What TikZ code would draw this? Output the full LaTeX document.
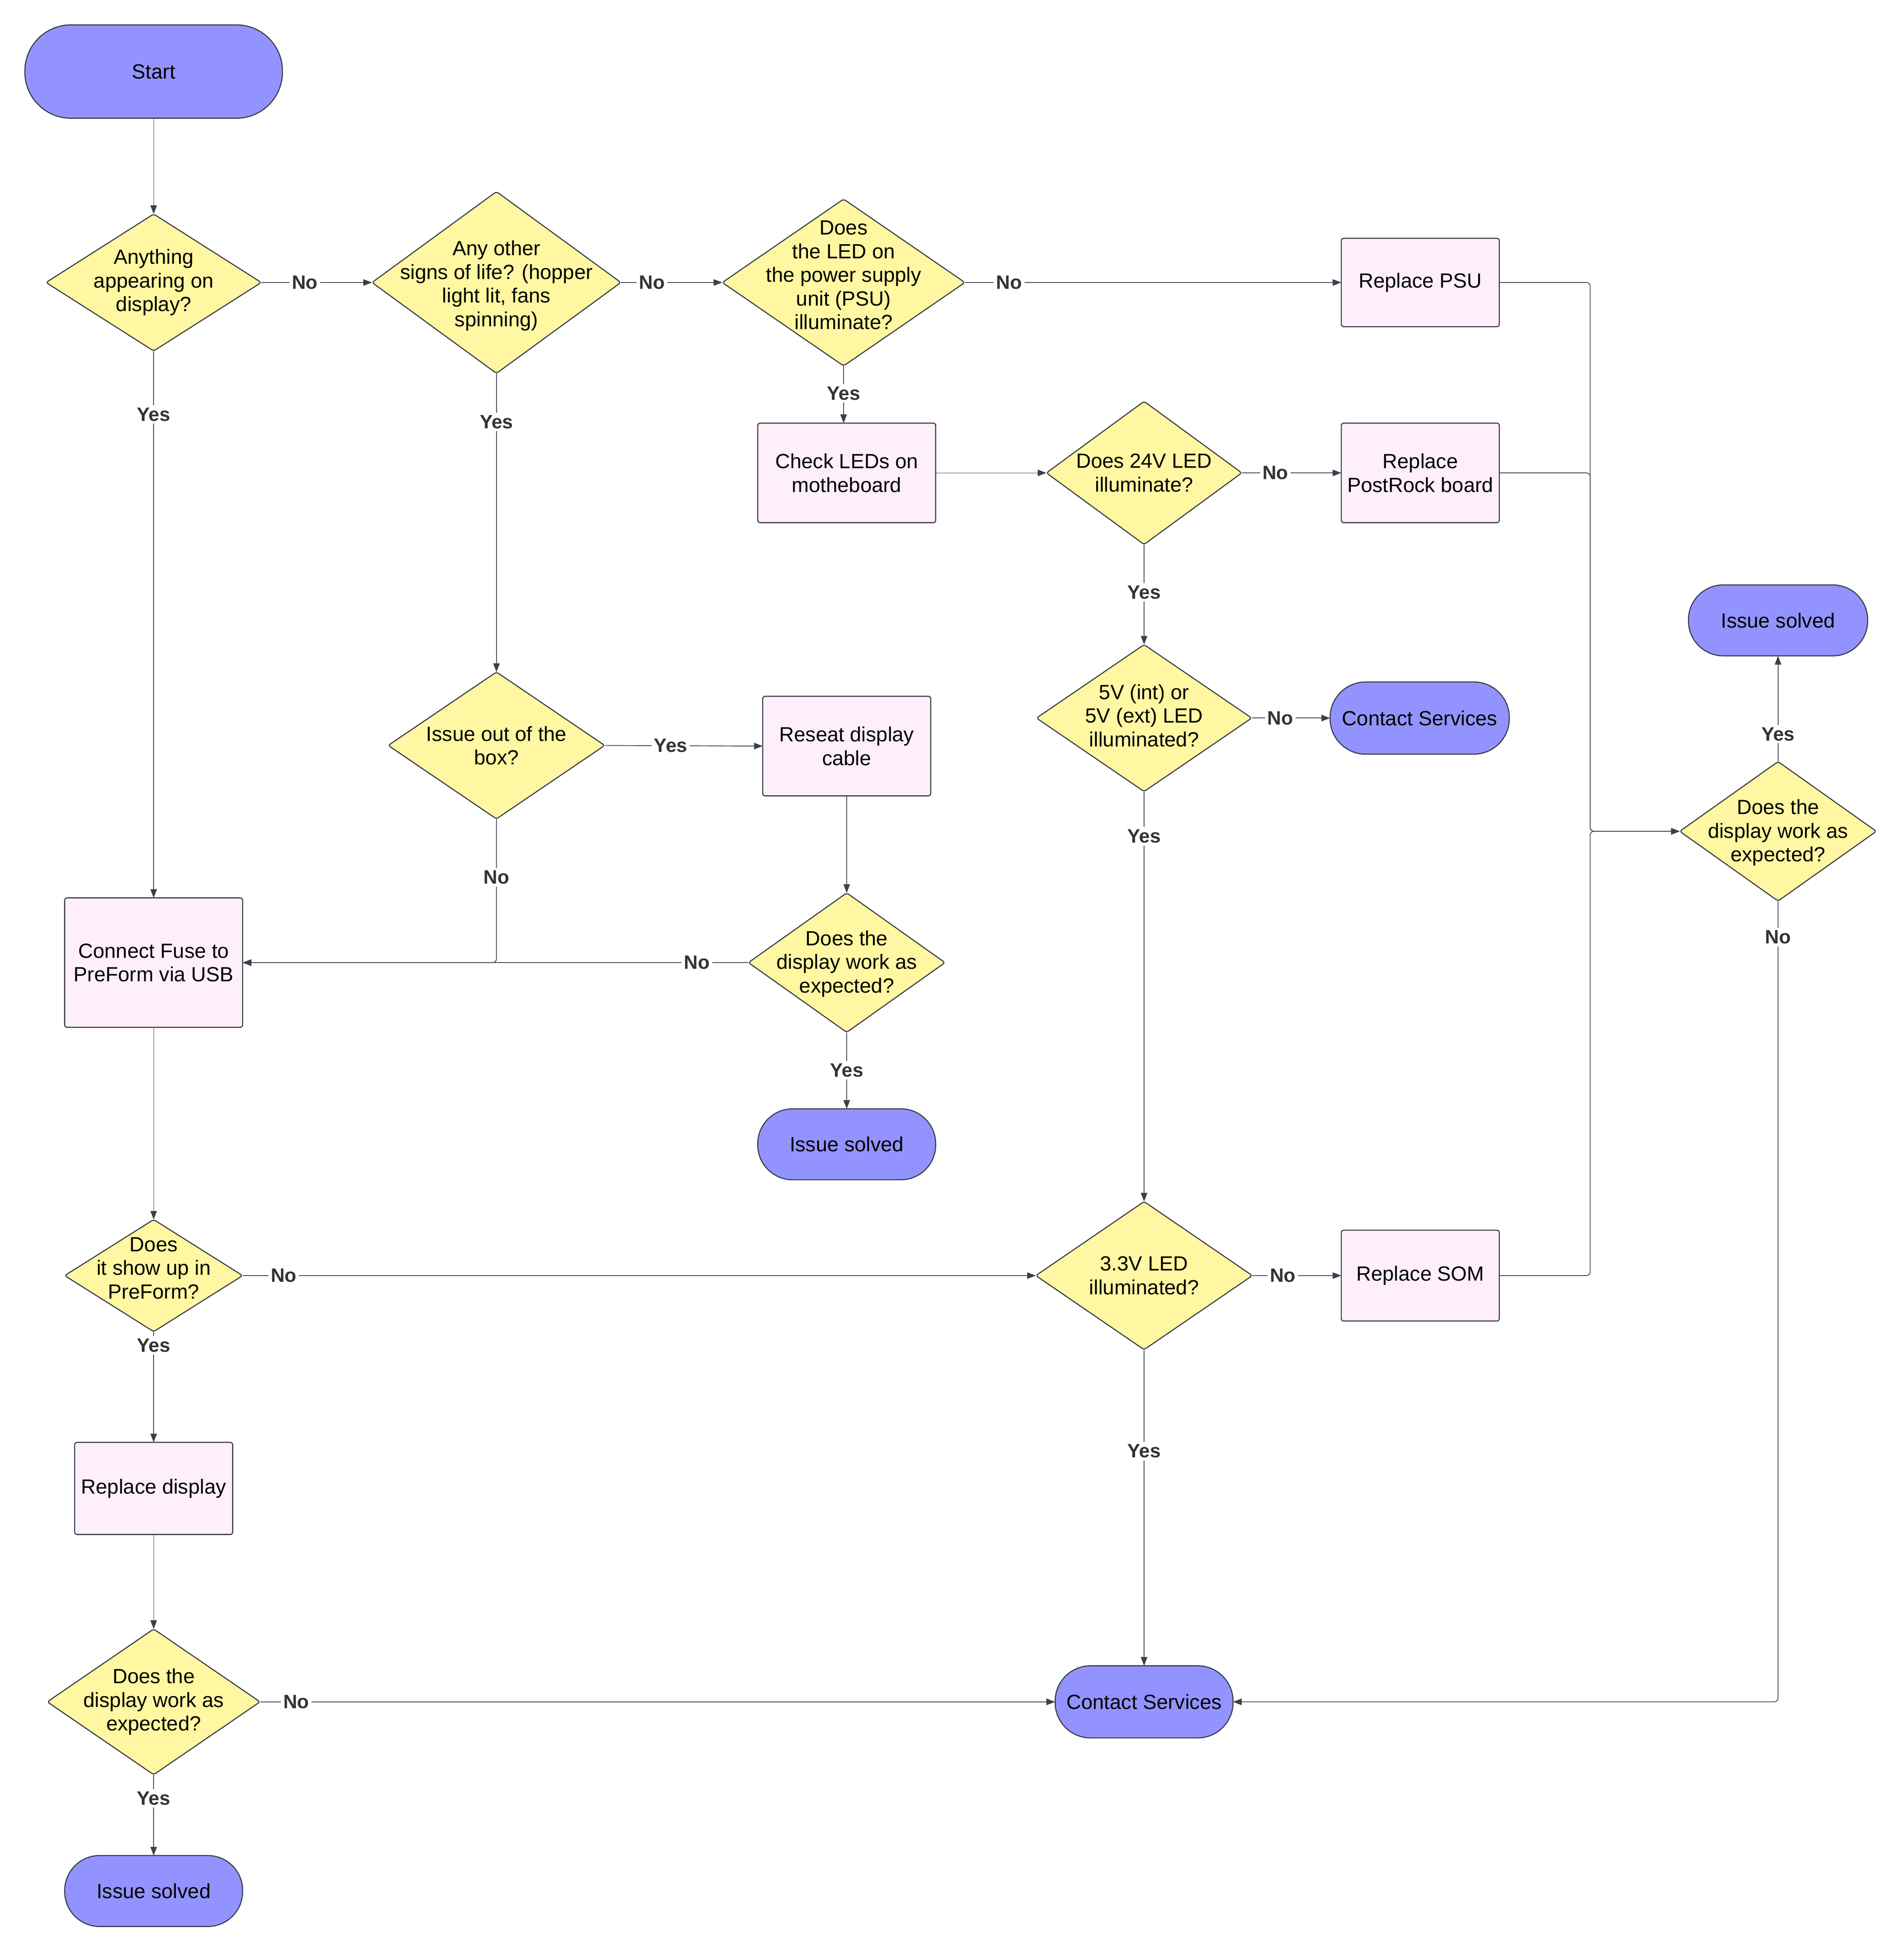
\documentclass[tikz,border=0pt]{standalone}
\usepackage{fontspec}
\setmainfont{Liberation Sans}
\usetikzlibrary{shapes.geometric,arrows.meta}
\definecolor{termc}{HTML}{9393FF}
\definecolor{diac}{HTML}{FFF7A1}
\definecolor{boxc}{HTML}{FFEFFA}
\definecolor{bd}{HTML}{383C48}
\definecolor{lc}{HTML}{3A3F4B}
\definecolor{lblc}{HTML}{333333}
\newcommand\nodefont{\fontsize{16.5}{19}\selectfont}
\newcommand\lblfont{\fontsize{15.5}{18}\selectfont\bfseries}
\tikzset{
  base/.style={draw=bd, line width=0.85pt, inner sep=0pt, outer sep=0pt, align=center, font=\nodefont, text=black},
  term/.style n args={3}{base, fill=termc, minimum width=#1, minimum height=#2, rounded corners=#3},
  boxn/.style 2 args={base, fill=boxc, minimum width=#1, minimum height=#2, rounded corners=2pt},
  dia/.style 2 args={base, diamond, fill=diac, minimum width=#1, minimum height=#2, rounded corners=2pt},
  txt/.style={align=center, font=\nodefont, inner sep=0pt, text=black},
  conn/.style={draw=lc, line width=0.6pt, -{Triangle[length=7pt,width=5.2pt]}},
  thinl/.style={conn, line width=0.35pt},
  lbl/.style={fill=white, inner sep=2pt, font=\lblfont, text=lblc},
}
\begin{document}
\begin{tikzpicture}[x=1pt,y=-1pt]
\useasboundingbox[fill=white] (0,0) rectangle (1530.13,1570.13);

% terminals
\node[term={207pt}{75pt}{37pt}] (start) at (123.5,57.5) {Start};
\node[term={144pt}{57pt}{28pt}] (is1) at (1429,498.5) {Issue solved};
\node[term={144pt}{58pt}{28.5pt}] (cs1) at (1141,577) {Contact Services};
\node[term={143pt}{57pt}{28pt}] (is2) at (680.5,919.5) {Issue solved};
\node[term={143pt}{58pt}{28.5pt}] (cs2) at (919.5,1367.5) {Contact Services};
\node[term={143pt}{57pt}{28pt}] (is3) at (123.5,1519.5) {Issue solved};

% boxes
\node[boxn={127pt}{71pt}] (psu) at (1141.5,227) {Replace PSU};
\node[boxn={143pt}{80pt}] (check) at (680.5,380) {Check LEDs on\\motheboard};
\node[boxn={127pt}{80pt}] (pr) at (1141.5,380) {Replace\\PostRock board};
\node[boxn={135pt}{80pt}] (reseat) at (680.5,599.5) {Reseat display\\cable};
\node[boxn={143pt}{104pt}] (fuse) at (123.5,773.5) {Connect Fuse to\\PreForm via USB};
\node[boxn={127pt}{73pt}] (som) at (1141.5,1025) {Replace SOM};
\node[boxn={127pt}{74pt}] (rd) at (123.5,1196) {Replace display};

% decisions
\node[dia={173pt}{110pt}] (d1) at (123.5,227) {};
\node[txt] (d1t) at (d1) {Anything\\appearing on\\display?};
\node[dia={200pt}{146pt}] (d2) at (399,227) {};
\node[txt, yshift=-2.5pt] (d2t) at (d2) {Any other\\signs of life? (hopper\\light lit, fans\\spinning)};
\node[dia={195pt}{134pt}] (d3) at (678,227) {};
\node[txt, yshift=6pt] (d3t) at (d3) {Does\\the LED on\\the power supply\\unit (PSU)\\illuminate?};
\node[dia={157pt}{115pt}] (d4) at (919.5,380) {};
\node[txt] (d4t) at (d4) {Does 24V LED\\illuminate?};
\node[dia={173pt}{118pt}] (d5) at (919.5,577) {};
\node[txt, yshift=2pt] (d5t) at (d5) {5V (int) or\\5V (ext) LED\\illuminated?};
\node[dia={174pt}{118pt}] (d6) at (399,599) {};
\node[txt] (d6t) at (d6) {Issue out of the\\box?};
\node[dia={158pt}{112pt}] (d7) at (1429,668) {};
\node[txt, yshift=-1pt] (d7t) at (d7) {Does the\\display work as\\expected?};
\node[dia={158pt}{112pt}] (d8) at (680.5,773.5) {};
\node[txt, yshift=-1pt] (d8t) at (d8) {Does the\\display work as\\expected?};
\node[dia={143pt}{90pt}] (d9) at (123.5,1025) {};
\node[txt, yshift=6pt] (d9t) at (d9) {Does\\it show up in\\PreForm?};
\node[dia={174pt}{119pt}] (d10) at (919.5,1025) {};
\node[txt] (d10t) at (d10) {3.3V LED\\illuminated?};
\node[dia={171pt}{117pt}] (d11) at (123.5,1367.5) {};
\node[txt] (d11t) at (d11) {Does the\\display work as\\expected?};

% connectors
\draw[thinl] (start.south) -- (d1.north);
\draw[conn] (d1.east) -- (d2.west);
\draw[conn] (d2.east) -- (d3.west);
\draw[conn] (d3.east) -- (psu.west);
\draw[conn] (d1.south) -- (fuse.north);
\draw[conn] (d2.south) -- (d6.north);
\draw[conn] (d3.south) -- (d3.south |- check.north);
\draw[thinl] (check.east) -- (d4.west);
\draw[conn] (d4.east) -- (pr.west);
\draw[conn] (d4.south) -- (d5.north);
\draw[conn] (d5.east) -- (cs1.west);
\draw[conn] (d5.south) -- (d10.north);
\draw[conn] (d6.east) -- (reseat.west);
\draw[conn, rounded corners=3pt] (d6.south) |- (fuse.east);
\draw[conn] (reseat.south) -- (d8.north);
\draw[conn] (d8.west) -- (fuse.east);
\draw[conn] (d8.south) -- (is2.north);
\draw[thinl] (fuse.south) -- (d9.north);
\draw[conn] (d9.east) -- (d10.west);
\draw[conn] (d9.south) -- (rd.north);
\draw[conn] (d10.east) -- (som.west);
\draw[conn] (d10.south) -- (cs2.north);
\draw[thinl] (rd.south) -- (d11.north);
\draw[conn] (d11.east) -- (cs2.west);
\draw[conn] (d11.south) -- (is3.north);
\coordinate (bus) at (1278,668);
\draw[conn, rounded corners=3pt] (psu.east) -| (bus) -- (d7.west);
\draw[conn, rounded corners=3pt] (pr.east) -| (bus) -- (d7.west);
\draw[conn, rounded corners=3pt] (som.east) -| (bus) -- (d7.west);
\draw[conn] (d7.north) -- (is1.south);
\draw[conn, rounded corners=3pt] (d7.south) |- (cs2.east);

% labels
\node[lbl] (l1) at (245,227) {No};
\node[lbl] (l2) at (524,227) {No};
\node[lbl] (l3) at (811,227) {No};
\node[lbl] (l4) at (123.5,333) {Yes};
\node[lbl] (l5) at (399,339) {Yes};
\node[lbl] (l6) at (678,316) {Yes};
\node[lbl] (l7) at (1025,380) {No};
\node[lbl] (l8) at (919.5,476) {Yes};
\node[lbl] (l9) at (1029,577) {No};
\node[lbl] (l10) at (919.5,672) {Yes};
\node[lbl] (l11) at (539,599) {Yes};
\node[lbl] (l12) at (399,705) {No};
\node[lbl] (l13) at (560,773.5) {No};
\node[lbl] (l14) at (680.5,860) {Yes};
\node[lbl] (l15) at (1429,590) {Yes};
\node[lbl] (l16) at (1429,753) {No};
\node[lbl] (l17) at (228,1025) {No};
\node[lbl] (l18) at (123.5,1081) {Yes};
\node[lbl] (l19) at (1031,1025) {No};
\node[lbl] (l20) at (919.5,1166) {Yes};
\node[lbl] (l21) at (238,1367.5) {No};
\node[lbl] (l22) at (123.5,1445) {Yes};
\end{tikzpicture}
\end{document}
